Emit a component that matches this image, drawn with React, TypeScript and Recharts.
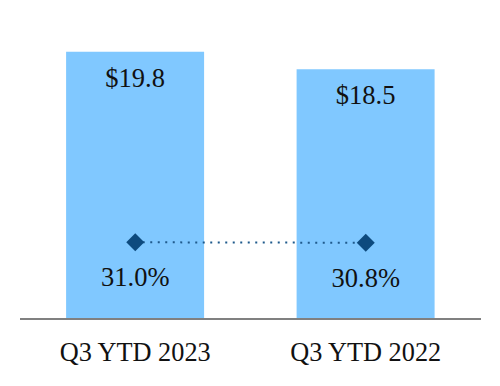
import React from "react"
import { ComposedChart, Bar, Line, XAxis, YAxis, LabelList } from "recharts"

const categories = ["Q3 YTD 2023", "Q3 YTD 2022"]
const revenue = [19.8, 18.5]
const margin = [31.0, 30.8]

const data = categories.map((name, i) => ({ name, revenue: revenue[i], margin: margin[i] }))

const serif = "'Liberation Serif', 'Times New Roman', serif"

function Diamond(props: any) {
  const { cx, cy } = props
  if (cx == null || cy == null) return null
  const r = 9
  return (
    <path
      d={`M${cx},${cy - r} L${cx + r},${cy} L${cx},${cy + r} L${cx - r},${cy} Z`}
      fill="#0D4A7E"
    />
  )
}

export default function App() {
  return (
    <div style={{ position: "absolute", left: 0, top: 0, background: "#fff" }}>
      <ComposedChart
        width={500}
        height={386}
        data={data}
        margin={{ top: 22, right: 19, bottom: 0, left: 20 }}
        barCategoryGap="20%"
      >
        <XAxis
          dataKey="name"
          height={67}
          tickLine={false}
          axisLine={{ stroke: "#808080", strokeWidth: 2 }}
          tick={{ fill: "#111", fontSize: 26.3, fontFamily: serif }}
          tickMargin={17}
        />
        <YAxis yAxisId="left" hide domain={[0, 22]} />
        <YAxis yAxisId="right" hide orientation="right" domain={[0, 120]} />
        <Bar yAxisId="left" dataKey="revenue" fill="#80C8FF" isAnimationActive={false}>
          <LabelList
            dataKey="revenue"
            position="insideTop"
            offset={16}
            formatter={(v: any) => `$${Number(v).toFixed(1)}`}
            style={{ fill: "#111", fontSize: 26.5, fontFamily: serif }}
          />
        </Bar>
        <Line
          yAxisId="right"
          dataKey="margin"
          stroke="#1F5A8C"
          strokeWidth={2}
          strokeDasharray="2 5.5"
          dot={<Diamond />}
          activeDot={false}
          isAnimationActive={false}
        >
          <LabelList
            dataKey="margin"
            position="bottom"
            offset={25}
            formatter={(v: any) => `${Number(v).toFixed(1)}%`}
            style={{ fill: "#111", fontSize: 26.5, fontFamily: serif }}
          />
        </Line>
      </ComposedChart>
    </div>
  )
}
